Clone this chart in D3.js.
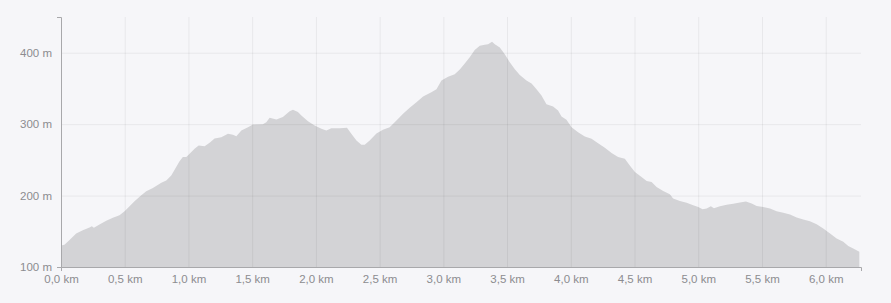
<!DOCTYPE html>
<html>
<head>
<meta charset="utf-8">
<script src="https://cdn.jsdelivr.net/npm/d3@7"></script>
<style>
  html, body { margin:0; padding:0; background:#f6f6f9; }
  #chart-area { width:891px; height:303px; }
  .axis text { font-family:"Liberation Sans", Arial, sans-serif; font-size:11.5px; fill:#8c8c90; }
  .axis path, .axis line { stroke:#a8a8ab; }
  .grid line { stroke:rgba(0,0,0,0.06); }
  .grid path { display:none; }
</style>
</head>
<body>
<div id="chart-area"></div>
<script>
/* Elevation profile */
var margin = {top:17, right:30, bottom:36, left:61};
var width = 891 - margin.left - margin.right;
var height = 303 - margin.top - margin.bottom;

// distance (km) and elevation (m)
var distKm = [0.00,0.027,0.067,0.119,0.171,0.224,0.242,0.258,0.302,0.355,0.407,0.459,0.499,0.538,0.577,0.630,0.669,0.721,0.787,0.826,0.865,0.904,0.930,0.956,0.983,1.009,1.048,1.080,1.127,1.166,1.205,1.258,1.310,1.349,1.376,1.415,1.467,1.506,1.584,1.611,1.637,1.690,1.741,1.794,1.820,1.859,1.886,1.938,1.990,2.043,2.082,2.121,2.187,2.244,2.278,2.318,2.357,2.383,2.422,2.475,2.526,2.579,2.632,2.684,2.736,2.789,2.841,2.906,2.946,2.985,3.037,3.089,3.129,3.168,3.207,3.246,3.286,3.325,3.351,3.382,3.404,3.443,3.482,3.521,3.561,3.600,3.652,3.692,3.731,3.770,3.809,3.861,3.900,3.927,3.966,4.006,4.057,4.110,4.163,4.214,4.267,4.320,4.371,4.424,4.463,4.503,4.555,4.595,4.634,4.673,4.725,4.777,4.803,4.856,4.909,4.960,5.000,5.034,5.066,5.099,5.123,5.170,5.223,5.274,5.327,5.374,5.419,5.458,5.510,5.563,5.615,5.667,5.720,5.772,5.824,5.876,5.929,5.981,6.034,6.086,6.138,6.177,6.216,6.264];
var elevM = [130,131,137.7,147,151.6,155.4,157,154.8,159.6,164.6,168.8,172.6,178,185,192,200.5,206,210.7,218,221,228,240,248,254,254,258.6,265.6,270,269,274,280,281.8,286.6,285,283,291,295.8,299.5,300,302.7,309,306.5,310,318,320,317,312,304,298,293.5,291,294.4,294.4,295,286.6,277,271,271,277,287,292,295.8,305,314.4,322.8,330.7,338.6,344.6,349,361,366.5,370,376.5,385,393.5,403.7,409.8,411,412,415.3,412,407.4,398,386.5,377,368.9,361,357,349,340,328,324.6,319,310.7,306,295.8,288.8,282.8,279.6,273.4,267,259.5,254,251.6,242,233,226,220.4,219,212,206.5,202,195.8,192.5,190,186.5,184,181,182,185,182.3,185,187,188.4,190.3,191.6,188.9,185.5,184,182,178,175.8,173.5,169.3,166.6,164,160,154,147,140,135.3,129.3,126,121.4];

var xTicks = [0,0.5,1,1.5,2,2.5,3,3.5,4,4.5,5,5.5,6];
var yTicks = [100,200,300,400];
var maxKm = 6.277;

var data = distKm.map((d,i)=>({km:d, m:elevM[i]}));

var g = d3.select("#chart-area").append("svg")
  .attr("width", width + margin.left + margin.right)
  .attr("height", height + margin.top + margin.bottom)
    .append("g")
    .attr("transform", "translate("+margin.left+","+margin.top+")");

/* Scales */
var x = d3.scaleLinear().domain([0, maxKm]).range([0, width]);
var y = d3.scaleLinear().domain([100, 450]).range([height, 0]);

/* Area */
var area = d3.area()
  .x(d=>x(d.km))
  .y0(height)
  .y1(d=>y(d.m));

g.append("path")
  .datum(data)
  .attr("fill", "#d3d3d6")
  .attr("d", area);

/* Grid */
g.append("g")
  .attr("class", "grid")
  .call(d3.axisBottom(x).tickValues(xTicks.slice(1)).tickSize(height).tickFormat(""));

g.append("g")
  .attr("class", "grid")
  .call(d3.axisLeft(y).tickValues(yTicks.slice(1)).tickSize(-width).tickFormat(""));

/* Axes */
var fmtKm = d=> d3.format(".1f")(d).replace(".", ",") + " km";

g.append("g")
  .attr("class", "x axis")
  .attr("transform", "translate(0,"+height+")")
  .call(d3.axisBottom(x).tickValues(xTicks).tickSizeInner(0).tickSizeOuter(4).tickPadding(8).tickFormat(fmtKm));

g.append("g")
  .attr("class", "y axis")
  .call(d3.axisLeft(y).tickValues(yTicks).tickSizeInner(0).tickSizeOuter(4).tickPadding(9).tickFormat(d=>d+" m"));

// tick at 100 m on the y axis
g.select(".y.axis").selectAll(".tick").filter(d=>d===100).select("line").attr("x2", -4);
</script>
</body>
</html>
